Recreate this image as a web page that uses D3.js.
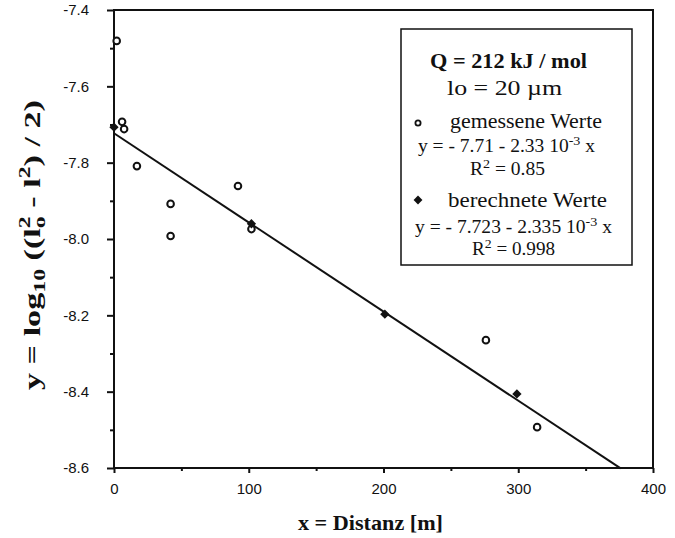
<!DOCTYPE html>
<html>
<head>
<meta charset="utf-8">
<script src="https://cdn.jsdelivr.net/npm/d3@7"></script>
<style>
    body { margin: 0; background: #fff; }
    .tick text { font-family: "Liberation Sans", Arial, sans-serif; font-size: 15px; fill: #111; }
    .serif { font-family: "Liberation Serif", "Times New Roman", serif; fill: #111; }
</style>
</head>
<body>
<svg id="chart" width="675" height="538"></svg>
<script>
// Measured values (open circles)
const measuredX = [2, 6, 7.5, 17, 42, 42, 92, 102, 276, 314];
const measuredY = [-7.481, -7.693, -7.712, -7.809, -7.908, -7.992, -7.861, -7.974, -8.265, -8.493];

// Computed values (filled diamonds)
const computedX = [0, 102, 201, 299];
const computedY = [-7.707, -7.96, -8.197, -8.406];

// Fitted line end points
const fitX = [0, 376];
const fitY = [-7.723, -8.601];

// Axis ticks
const xTicks = [0, 100, 200, 300, 400];
const xMinorTicks = [50, 150, 250, 350];
const yTicks = [-7.4, -7.6, -7.8, -8.0, -8.2, -8.4, -8.6];
const yMinorTicks = [-7.5, -7.7, -7.9, -8.1, -8.3, -8.5];

/**
 * Layout.
 */
const margin = { top: 10, right: 22, bottom: 70, left: 114 };
const visWidth = 675, visHeight = 538;
const width = visWidth - margin.left - margin.right,
    height = visHeight - margin.top - margin.bottom;

const svg = d3.select('#chart');
const g = svg.append('g').attr('transform', 'translate(' + margin.left + ',' + margin.top + ')');

const x = d3.scaleLinear().domain([0, 400]).range([0, width]);
const y = d3.scaleLinear().domain([-7.4, -8.6]).range([0, height]);

// Frame
g.append('rect')
    .attr('width', width).attr('height', height)
    .attr('fill', 'none').attr('stroke', '#111').attr('stroke-width', 2);

// Axes
g.append('g').attr('transform', 'translate(0,' + height + ')')
    .call(d3.axisBottom(x).tickValues(xTicks).tickSize(5).tickPadding(10).tickFormat(d3.format('d')));
g.append('g').attr('transform', 'translate(0,' + height + ')')
    .call(d3.axisBottom(x).tickValues(xMinorTicks).tickSize(3).tickFormat(''));
const yAxis = g.append('g')
    .call(d3.axisLeft(y).tickValues(yTicks).tickSize(7).tickPadding(18));
g.append('g')
    .call(d3.axisLeft(y).tickValues(yMinorTicks).tickSize(4).tickFormat(''));

g.selectAll('.domain').remove();
g.selectAll('.tick line').attr('stroke', '#111').attr('stroke-width', 2);
yAxis.selectAll('.tick text').text(d => d.toFixed(1));

// Fit line
const line = d3.line().x(d => x(d[0])).y(d => y(d[1]));
g.append('path')
    .datum(d3.zip(fitX, fitY))
    .attr('d', line)
    .attr('fill', 'none').attr('stroke', '#111').attr('stroke-width', 2);

// Measured points
g.selectAll('.measured')
    .data(d3.zip(measuredX, measuredY))
    .join('circle')
    .attr('class', 'measured')
    .attr('cx', d => x(d[0])).attr('cy', d => y(d[1]))
    .attr('r', 3.3)
    .attr('fill', '#fff').attr('stroke', '#111').attr('stroke-width', 2);

// Computed points
const diamond = d3.symbol().type(d3.symbolDiamond2).size(55);
g.selectAll('.computed')
    .data(d3.zip(computedX, computedY))
    .join('path')
    .attr('class', 'computed')
    .attr('transform', d => 'translate(' + x(d[0]) + ',' + y(d[1]) + ')')
    .attr('d', diamond)
    .attr('fill', '#111');

// Axis titles
svg.append('text').attr('class', 'serif')
    .attr('x', 298).attr('y', 530)
    .attr('font-size', 21).attr('font-weight', 'bold')
    .attr('textLength', 145).attr('lengthAdjust', 'spacingAndGlyphs')
    .text('x = Distanz [m]');

const yTitle = svg.append('text').attr('class', 'serif')
    .attr('transform', 'translate(40,390) rotate(-90)')
    .attr('font-size', 23).attr('font-weight', 'bold')
    .attr('textLength', 290).attr('lengthAdjust', 'spacingAndGlyphs');
yTitle.append('tspan').text('y = log');
yTitle.append('tspan').attr('font-size', 16).attr('dy', 5).text('10');
yTitle.append('tspan').attr('dy', -5).text(' ((l');
yTitle.append('tspan').attr('font-size', 16).attr('dy', 5).text('o');
yTitle.append('tspan').attr('font-size', 16).attr('dx', -8).attr('dy', -15).text('2');
yTitle.append('tspan').attr('dy', 10).text(' - l');
yTitle.append('tspan').attr('font-size', 16).attr('dy', -10).text('2');
yTitle.append('tspan').attr('dy', 10).text(') / 2)');

// Legend box
const legend = svg.append('g');
legend.append('rect')
    .attr('x', 401).attr('y', 29).attr('width', 231).attr('height', 236)
    .attr('fill', '#fff').attr('stroke', '#111').attr('stroke-width', 1.5);

function legendText(tx, ty, len, size, weight) {
    return legend.append('text').attr('class', 'serif')
        .attr('x', tx).attr('y', ty)
        .attr('textLength', len).attr('lengthAdjust', 'spacingAndGlyphs')
        .attr('font-size', size).attr('font-weight', weight || 'normal');
}

legendText(430, 68, 157, 21, 'bold').text('Q = 212 kJ / mol');
legendText(447, 95, 115, 22).text('lo = 20 µm');

legend.append('circle').attr('cx', 418).attr('cy', 123).attr('r', 2.6)
    .attr('fill', '#fff').attr('stroke', '#111').attr('stroke-width', 1.8);
legendText(450, 128, 152, 21).text('gemessene Werte');

let t = legendText(418, 152, 177, 18);
t.append('tspan').text('y =  - 7.71 - 2.33 10');
t.append('tspan').attr('font-size', 13).attr('dy', -7).text('-3');
t.append('tspan').attr('dy', 7).text(' x');

t = legendText(470, 175, 75, 18);
t.append('tspan').text('R');
t.append('tspan').attr('font-size', 13).attr('dy', -7).text('2');
t.append('tspan').attr('dy', 7).text(' = 0.85');

legend.append('path').attr('transform', 'translate(418,200)')
    .attr('d', d3.symbol().type(d3.symbolDiamond2).size(50)).attr('fill', '#111');
legendText(448, 207, 159, 21).text('berechnete Werte');

t = legendText(415, 233, 197, 18);
t.append('tspan').text('y =  - 7.723 - 2.335 10');
t.append('tspan').attr('font-size', 13).attr('dy', -7).text('-3');
t.append('tspan').attr('dy', 7).text(' x');

t = legendText(472, 255, 83, 18);
t.append('tspan').text('R');
t.append('tspan').attr('font-size', 13).attr('dy', -7).text('2');
t.append('tspan').attr('dy', 7).text(' = 0.998');
</script>
</body>
</html>
